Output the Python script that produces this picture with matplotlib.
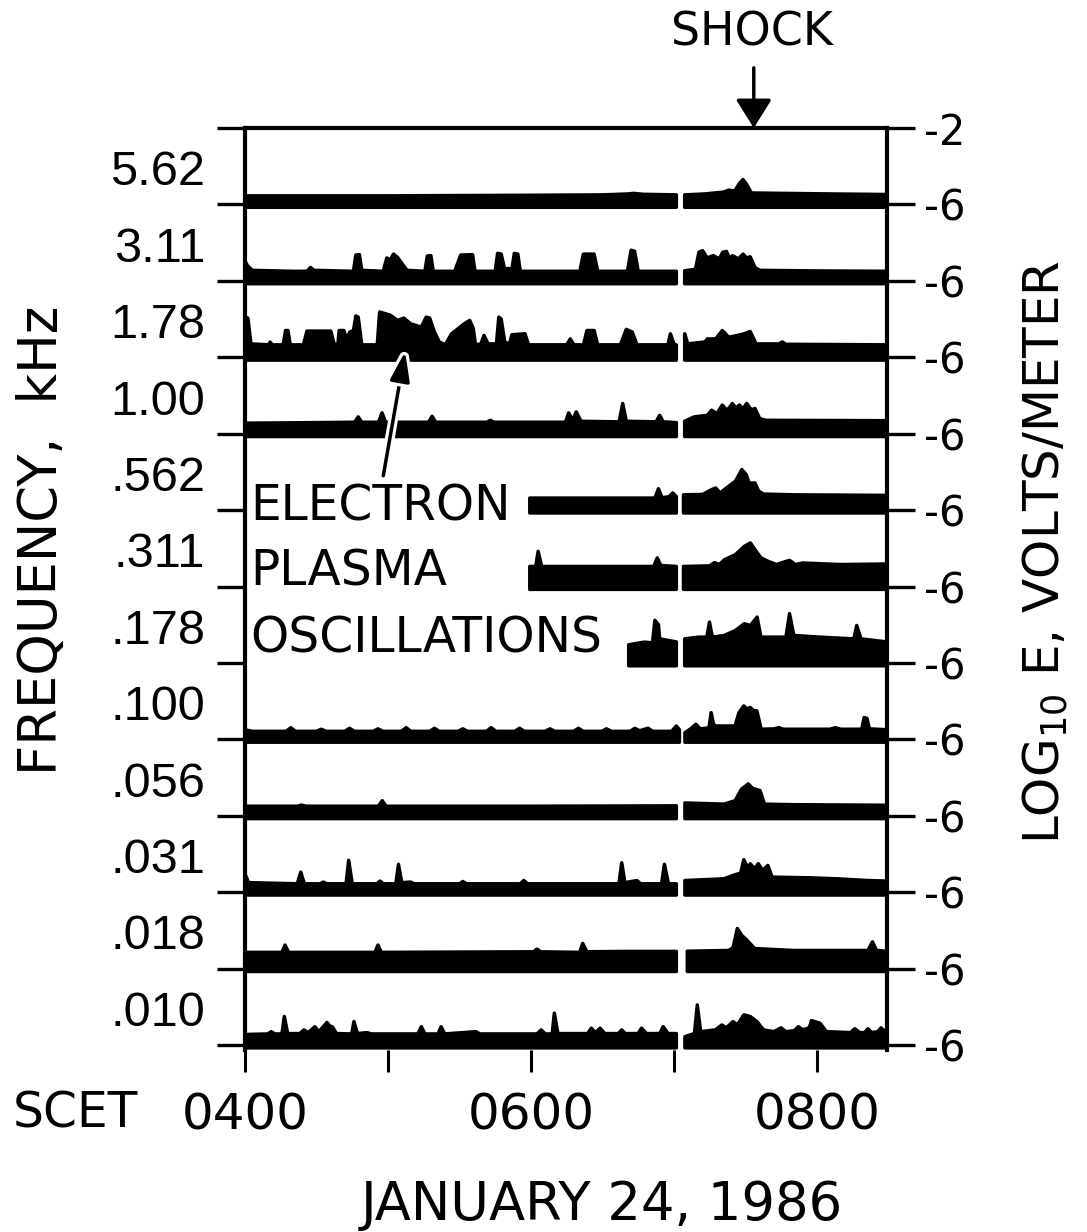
import numpy as np
import matplotlib.pyplot as plt
from matplotlib import patheffects as pe
from matplotlib.transforms import blended_transform_factory

nan = float('nan')

# frequency channels, top to bottom (kHz)
freq_labels = ['5.62', '3.11', '1.78', '1.00', '.562', '.311', '.178',
               '.100', '.056', '.031', '.018', '.010']

# each channel: (minutes after SCET 0400, log10 E in V/m), nan marks the data gap
ch_5_62 = [(0, -5.55), (60, -5.55), (120, -5.52), (150, -5.5), (161, -5.45), (163, -5.42),
           (167, -5.47), (181, -5.5), (183.5, nan), (184.5, -5.5), (193, -5.45), (201, -5.35),
           (203, -5.25), (205.5, -5.3), (207.5, -4.9), (209, -4.7), (210.5, -4.95), (212.5, -5.4),
           (225, -5.42), (245, -5.45), (270, -5.48)]

ch_3_11 = [(0, -4.95), (1, -5.2), (3, -5.45), (20, -5.5), (26, -5.5), (27.5, -5.3), (29, -5.45),
           (45.5, -5.5), (46.5, -4.65), (48, -4.63), (49, -5.45),
           (58, -5.5), (59.5, -4.8), (61, -4.9), (62.3, -4.6), (64, -4.77), (66.5, -5.2), (68, -5.45),
           (75.5, -5.5), (76.5, -4.7), (78, -4.68), (79, -5.5),
           (88, -5.5), (90.5, -4.65), (95.5, -4.63), (96.5, -5.5),
           (105, -5.5), (106, -4.56), (107.5, -4.6), (109, -5.4), (110.5, -5.35), (112, -5.4),
           (113, -4.56), (114.5, -4.6), (115.5, -5.5),
           (140.5, -5.5), (142, -4.6), (146.5, -4.6), (148, -5.5),
           (160.5, -5.5), (162, -4.4), (163.5, -4.45), (165, -5.5), (181, -5.5), (183.5, nan),
           (184.5, -5.47), (189, -5.4), (190.5, -4.5), (192, -4.42), (194, -4.8), (196.5, -4.68),
           (199, -4.85), (200.5, -4.5), (202, -4.46), (203.5, -4.85), (204.5, -4.68), (207, -4.85),
           (209, -4.6), (210.5, -4.8), (212, -4.74), (214, -5.3), (216, -5.45), (240, -5.48), (270, -5.5)]

ch_1_78 = [(0, -3.9), (1.2, -3.95), (2.5, -5.3), (10, -5.35), (10.5, -5.2), (11.5, -5.35),
           (16, -5.35), (17, -4.6), (18, -4.6), (19, -5.35),
           (24.5, -5.35), (26, -4.63), (36, -4.63), (37.5, -5.35),
           (39, -5.3), (39.5, -4.6), (41.5, -4.6), (42.7, -5.04), (44, -4.68), (45.5, -4.6),
           (46.5, -3.84), (47.5, -3.9), (49, -5.35),
           (55.5, -5.35), (56.5, -3.63), (61, -3.8), (64, -4.07), (66.7, -3.95), (69.5, -4.25),
           (74, -4.42), (76, -3.9), (77.5, -3.95), (79.5, -4.68), (81.5, -5.2), (84, -5.35),
           (86.7, -4.77), (92, -4.25), (94.3, -4.07), (95.8, -4.5), (96.7, -5.35),
           (99, -5.3), (100.3, -4.86), (102, -5.3),
           (105.5, -5.3), (106.5, -3.9), (107.5, -4.0), (109, -5.2),
           (111, -5.3), (112, -4.82), (117.5, -4.77), (119, -5.35),
           (135, -5.35), (136.5, -5.04), (138, -5.35),
           (142, -5.35), (143.5, -4.6), (146.5, -4.6), (148, -5.35),
           (157.5, -5.35), (160, -4.54), (162.5, -4.68), (164.5, -5.35),
           (177.5, -5.35), (178.5, -4.77), (180, -5.3), (181, -5.35), (183.5, nan),
           (184.5, -4.77), (185.8, -5.3), (193, -5.2), (194, -5.04), (197.5, -5.04), (200.3, -4.6),
           (203, -4.95), (206.5, -4.86), (209.5, -4.77), (212, -4.65), (214.5, -5.3), (224, -5.3),
           (225.5, -5.2), (227, -5.32), (270, -5.35)]

ch_1_00 = [(0, -5.45), (30, -5.42), (46, -5.4), (47.5, -5.12), (49, -5.4), (56, -5.4), (57.5, -4.91),
           (59, -5.4), (77, -5.4), (78.5, -5.09), (80, -5.4), (101.5, -5.4), (103, -5.3), (104.5, -5.4),
           (134.5, -5.4), (135.8, -4.91), (137.5, -5.3), (139, -4.86), (141, -5.35), (157, -5.38),
           (158.5, -4.42), (160, -5.35), (172.5, -5.38), (174, -5.04), (175.5, -5.38), (181, -5.42),
           (183.5, nan),
           (184.5, -5.35), (188.5, -5.12), (194, -5.04), (195.8, -4.77), (198, -4.95), (200.3, -4.5),
           (202, -4.75), (203, -4.68), (204.5, -4.42), (206, -4.65), (207.5, -4.5), (209, -4.7),
           (210.5, -4.42), (212.5, -4.75), (214, -4.68), (216, -5.21), (218.5, -5.3), (270, -5.32)]

ch_0_562 = [(119.5, -5.37), (172, -5.37), (173.5, -4.88), (175, -5.35), (178, -5.3), (179.5, -5.1),
            (181, -5.3), (183.5, nan),
            (184, -5.2), (192, -5.18), (195.8, -4.93), (197.5, -4.84), (199.4, -5.1), (203, -4.75),
            (205.8, -4.49), (208.5, -3.88), (210.3, -4.14), (211.5, -4.58), (214, -4.58),
            (215.5, -5.0), (217.5, -5.16), (230, -5.2), (270, -5.23)]

ch_0_311 = [(119.5, -4.95), (122, -4.95), (123, -4.16), (124.5, -4.95), (171.5, -4.95), (173, -4.5),
            (174.5, -4.9), (181, -4.95), (183.5, nan),
            (184, -4.95), (195, -4.92), (197, -4.75), (199, -4.85), (201.2, -4.6), (205.8, -4.33),
            (209.5, -3.9), (212.1, -3.72), (214, -4.07), (216.5, -4.5), (219.5, -4.68), (223, -4.85),
            (228.5, -4.63), (231, -4.85), (234, -4.77), (250, -4.85), (270, -4.82)]

ch_0_178 = [(161, -5.05), (167.5, -4.91), (171, -4.95), (172, -3.77), (173.5, -4.0), (174, -4.74),
            (177.5, -4.82), (181, -4.9), (183.5, nan),
            (184.5, -4.74), (190.3, -4.65), (193.8, -4.65), (194.9, -3.86), (196.1, -4.65),
            (201.2, -4.56), (205.8, -4.3), (209.5, -3.95), (212.1, -4.04), (214.9, -3.6),
            (216.5, -4.65), (227, -4.65), (228.5, -3.42), (230.3, -4.56), (241.2, -4.65),
            (255.5, -4.74), (256.7, -4.04), (258.5, -4.74), (270, -4.91)]

ch_0_100 = [(0, -5.5), (3, -5.58), (17.2, -5.58), (19.2, -5.39), (21.2, -5.58), (30, -5.58), (32, -5.47),
            (34, -5.58), (41.9, -5.58), (43.9, -5.42), (45.9, -5.58), (53.8, -5.58), (55.8, -5.45),
            (57.8, -5.58), (65.6, -5.58), (67.6, -5.39), (69.6, -5.58), (77.5, -5.58), (79.5, -5.42),
            (81.5, -5.58), (89.4, -5.58), (91.4, -5.45), (93.4, -5.58), (101.3, -5.58), (103.3, -5.39),
            (105.3, -5.58), (113.2, -5.58), (115.2, -5.42), (117.2, -5.58), (126, -5.58), (128, -5.45),
            (130, -5.58), (137.9, -5.58), (139.9, -5.42), (141.9, -5.58), (149.7, -5.58), (151.7, -5.45),
            (153.7, -5.58), (161.6, -5.58), (163.6, -5.42), (165.6, -5.55), (169.1, -5.42),
            (171.1, -5.58), (179, -5.58), (181, -5.3), (182.3, -5.5), (183.5, nan),
            (184.6, -5.65), (187, -5.45), (189.2, -5.21), (191, -5.45), (194.7, -5.4), (195.6, -4.6),
            (196.6, -5.2), (197.5, -5.3), (205.6, -5.3), (207.3, -4.6), (209.3, -4.25), (210.5, -4.4),
            (212, -4.33), (213.5, -4.5), (214.8, -4.51), (216.6, -5.47), (222, -5.45), (224, -5.39),
            (226, -5.47), (245.5, -5.47), (247.7, -5.39), (250, -5.47), (258.8, -5.47), (259.8, -4.86),
            (261, -4.9), (262, -5.45), (270, -5.5)]

ch_0_056 = [(0, -5.5), (22, -5.5), (23.8, -5.44), (25.5, -5.5), (56, -5.5), (57.6, -5.21), (59.2, -5.5),
            (120, -5.5), (181, -5.48), (183.5, nan),
            (184.6, -5.33), (201, -5.39), (205.7, -5.21), (207.5, -4.8), (208.4, -4.6), (210, -4.45),
            (211.2, -4.33), (212.8, -4.55), (213.9, -4.6), (216.1, -4.68), (218, -5.39), (230, -5.42),
            (270, -5.45)]

ch_0_031 = [(0, -5.04), (1.5, -5.5), (21.9, -5.56), (23.4, -4.95), (24.9, -5.56), (31.5, -5.56),
            (32.9, -5.47), (34.3, -5.56), (42.4, -5.56), (43.5, -4.33), (45, -5.56), (55.3, -5.56),
            (56.7, -5.42), (58, -5.56), (63.3, -5.56), (64.4, -4.54), (65.8, -5.5), (69.5, -5.47),
            (71, -5.56), (90, -5.56), (91.4, -5.44), (93, -5.56), (115.5, -5.56), (117, -5.39),
            (118.5, -5.56), (156.9, -5.56), (158.1, -4.46), (159.4, -5.5), (164.5, -5.39),
            (166, -5.56), (174.8, -5.56), (176, -4.54), (177.7, -5.56), (181, -5.56), (183.5, nan),
            (184.6, -5.39), (201, -5.3), (204.8, -5.12), (208, -5.0), (209.3, -4.3), (211.2, -4.77),
            (212, -4.51), (213.9, -4.77), (215.4, -4.51), (217.2, -4.86), (219.4, -4.6), (221.2, -5.21),
            (237.7, -5.25), (248.6, -5.3), (261.4, -5.39), (270, -5.42)]

ch_0_018 = [(0, -5.15), (15.5, -5.15), (16.8, -4.77), (18.3, -5.15), (54.5, -5.15), (55.8, -4.77),
            (57.2, -5.15), (121, -5.12), (122.5, -4.98), (124, -5.12), (140.4, -5.15), (141.7, -4.68),
            (143.5, -5.12), (160, -5.1), (181, -5.1), (183.5, nan),
            (185.6, -5.09), (203, -5.05), (204.8, -4.9), (206.6, -3.9), (208.4, -4.25), (210.6, -4.51),
            (213.9, -4.95), (230, -5.05), (261.4, -5.05), (263.3, -4.6), (265, -5.05), (270, -5.1)]

ch_0_010 = [(0, -5.45), (9.5, -5.42), (11, -5.3), (12.5, -5.42), (15.5, -5.42), (16.5, -4.51),
            (17.9, -5.4), (23, -5.4), (24.7, -5.21), (26.5, -5.35), (29.3, -5.04), (31, -5.3),
            (34.4, -4.82), (35.5, -5.0), (36.6, -5.04), (38.4, -5.4), (44.8, -5.42), (45.7, -4.77),
            (47.2, -5.4), (51.2, -5.35), (53, -5.42), (72.5, -5.42), (74, -5.04), (75.5, -5.42),
            (81, -5.42), (82.3, -5.04), (83.8, -5.42), (96.9, -5.3), (98.5, -5.42), (122.5, -5.42),
            (124.3, -5.21), (126, -5.42), (128.9, -5.42), (129.8, -4.33), (131.3, -5.4), (143.8, -5.4),
            (145.3, -5.12), (147, -5.35), (149, -5.12), (151, -5.4), (156.6, -5.4), (158.1, -5.21),
            (159.6, -5.4), (164.9, -5.4), (166.4, -5.12), (168.5, -5.4), (174, -5.4), (175.5, -5.04),
            (177.5, -5.4), (181, -5.4), (183.5, nan),
            (184.6, -5.56), (188.6, -5.4), (189.8, -3.9), (191.2, -5.3), (197.4, -5.21), (200.1, -4.95),
            (202, -5.1), (204.8, -4.77), (206.6, -4.95), (209.3, -4.42), (212, -4.51), (214.8, -4.77),
            (217.6, -5.21), (222, -5.3), (224.9, -5.1), (227, -5.3), (230.5, -5.25), (232.2, -5.04),
            (234, -5.2), (236.8, -5.1), (237.7, -4.72), (241.3, -4.86), (244, -5.3), (254, -5.35),
            (255.9, -5.15), (258, -5.35), (260, -5.35), (261.4, -5.15), (263, -5.35), (265.5, -5.3),
            (266.9, -5.1), (268.5, -5.3), (270, -5.04)]

channels = [ch_5_62, ch_3_11, ch_1_78, ch_1_00, ch_0_562, ch_0_311, ch_0_178,
            ch_0_100, ch_0_056, ch_0_031, ch_0_018, ch_0_010]

hour_ticks = [4, 5, 6, 7, 8]
hour_labels = ['0400', '', '0600', '', '0800']
shock_min = 213.5

# each band spans log10 E = -6 .. -2
band = 4
n = len(channels)

fig = plt.figure(figsize=(10.87, 12.32), dpi=100)
ax = fig.add_axes([0.2254, 0.1479, 0.5906, 0.7482])

for k, pts in enumerate(channels):
    base = band * (n - 1 - k)
    t = np.array([p[0] for p in pts])
    e = np.array([p[1] for p in pts])
    x = 4 + t / 60.0
    y = e + 6 + base
    ax.fill_between(x, base - 0.15, y, color='black', linewidth=2.5, joinstyle='round', zorder=2)

ax.set_xlim(4.0, 8.49)
ax.set_ylim(-0.25, band * n)

yt = [band * i for i in range(n + 1)]
ax.set_yticks(yt)
ax.set_yticklabels(['-6'] * n + ['-2'])
ax.tick_params(axis='y', left=True, right=True, labelleft=False, labelright=True,
               direction='out', length=20, width=2.4, pad=7, labelsize=30)
ax.set_xticks(hour_ticks)
ax.set_xticklabels(hour_labels)
ax.tick_params(axis='x', direction='out', length=16, width=2.2, pad=14, labelsize=36)

for s in ['top', 'left', 'right']:
    ax.spines[s].set_linewidth(3)
ax.spines['bottom'].set_visible(False)

# frequency labels just above each baseline
trans = blended_transform_factory(ax.transAxes, ax.transData)
for k, lab in enumerate(freq_labels):
    base = band * (n - 1 - k)
    ax.text(-0.062, base + 1.0, lab, transform=trans, ha='right', va='baseline',
            fontsize=35, family='Liberation Sans')

# electron plasma oscillations note
ax.text(4.035, 27.48, 'ELECTRON', fontsize=35, va='baseline')
ax.text(4.035, 24.04, 'PLASMA', fontsize=35, va='baseline')
ax.text(4.035, 20.55, 'OSCILLATIONS', fontsize=35, va='baseline')
ax.annotate('', xy=(5.12, 36.3), xytext=(4.967, 29.8),
            arrowprops=dict(arrowstyle='-|>,head_length=0.9,head_width=0.3', mutation_scale=20,
                            lw=2.5, color='black', shrinkA=0, shrinkB=0,
                            path_effects=[pe.Stroke(linewidth=7, foreground='white'), pe.Normal()]),
            zorder=5)

# shock marker
xs = 4 + shock_min / 60.0
ax.annotate('', xy=(xs, band * n), xytext=(xs, band * n + 3.15), annotation_clip=False,
            arrowprops=dict(arrowstyle='-|>,head_length=0.8,head_width=0.5', mutation_scale=22,
                            lw=2.5, color='black', shrinkA=0, shrinkB=0))
fig.text(752 / 1087, 1 - 33 / 1232, 'SHOCK', fontsize=33, ha='center', va='center')

fig.text(13 / 1087, 1 - 1090 / 1232, 'SCET', fontsize=35, ha='left', va='top')
fig.text(602 / 1087, 1 - 1205 / 1232, 'JANUARY 24, 1986', fontsize=38, ha='center', va='center')
fig.text(42 / 1087, 1 - 540 / 1232, 'FREQUENCY,  kHz', fontsize=38, rotation=90,
         ha='center', va='center')
fig.text(1045 / 1087, 1 - 552 / 1232, r'LOG$_{10}$ E, VOLTS/METER', fontsize=36, rotation=90,
         ha='center', va='center')

fig.savefig('out.png', dpi=100)
